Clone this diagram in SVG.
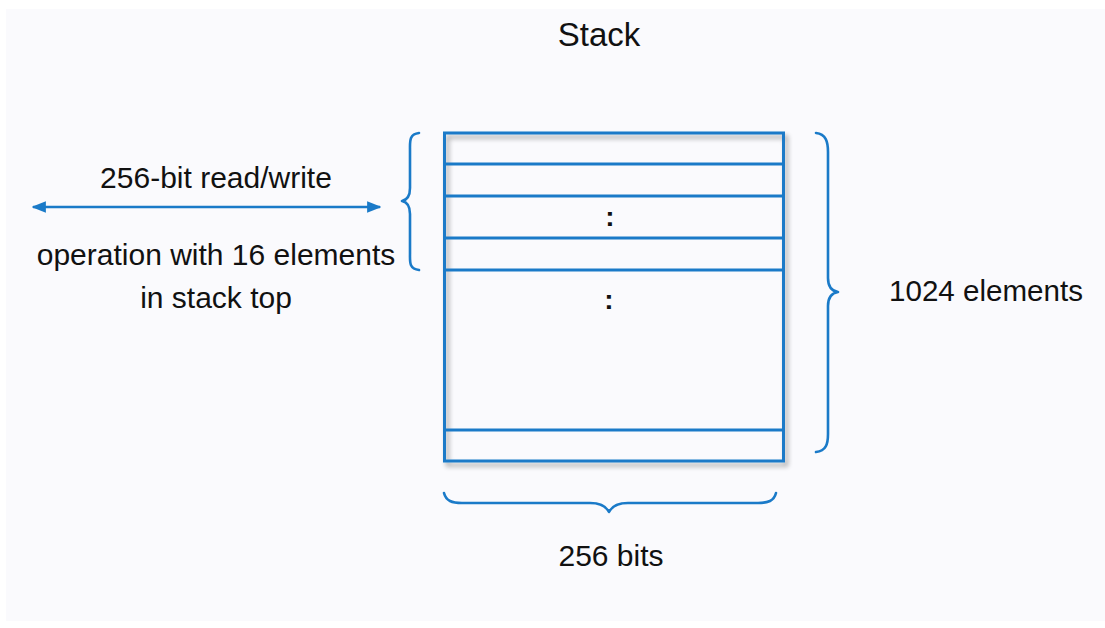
<svg xmlns="http://www.w3.org/2000/svg" width="1105" height="628" viewBox="0 0 1105 628">
  <defs>
    <style>
      .txt { font-family: "Liberation Sans", Arial, sans-serif; fill: #111; }
      .blue { fill: none; stroke: #1a7ac8; stroke-width: 3; }
      .brace { fill: none; stroke: #1a7ac8; stroke-width: 2.6; stroke-linecap: round; stroke-linejoin: round; }
      .dots { font-family: "Liberation Sans", Arial, sans-serif; font-weight: bold; font-size: 28px; fill: #111; text-anchor: middle; }
    </style>
    <marker id="arrowHead" viewBox="0 0 10 10" refX="9" refY="5" markerWidth="5.5" markerHeight="5.5" orient="auto-start-reverse" markerUnits="strokeWidth">
      <path d="M0,1 L10,5 L0,9 Z" fill="#1a7ac8"/>
    </marker>
    <filter id="shadow" x="-10%" y="-10%" width="125%" height="125%">
      <feGaussianBlur in="SourceAlpha" stdDeviation="2.5"/>
      <feOffset dx="3" dy="4" result="blur"/>
      <feComponentTransfer><feFuncA type="linear" slope="0.35"/></feComponentTransfer>
      <feMerge><feMergeNode/><feMergeNode in="SourceGraphic"/></feMerge>
    </filter>
  </defs>

  <!-- page -->
  <rect x="0" y="0" width="1105" height="628" fill="#ffffff"/>
  <rect x="6" y="9" width="1099" height="612" fill="#fafafd"/>

  <!-- title -->
  <g id="title">
    <text class="txt" x="599" y="46" font-size="33" text-anchor="middle">Stack</text>
  </g>

  <!-- stack memory block -->
  <g id="stack">
    <rect x="444.5" y="133" width="339" height="328" fill="#ffffff" class="blue" filter="url(#shadow)"/>
    <g class="blue">
      <line x1="444.5" y1="164" x2="783.5" y2="164"/>
      <line x1="444.5" y1="196" x2="783.5" y2="196"/>
      <line x1="444.5" y1="238" x2="783.5" y2="238"/>
      <line x1="444.5" y1="270" x2="783.5" y2="270"/>
      <line x1="444.5" y1="430" x2="783.5" y2="430"/>
    </g>
    <text class="dots" x="610" y="226">:</text>
    <text class="dots" x="609" y="309">:</text>
  </g>

  <!-- braces -->
  <g id="connectors">
    <!-- top 16 elements (left brace) -->
    <path class="brace" d="M419,133 C409,134 410,142 410,150 L410,188 C410,196 407,200 402,201 C407,202 410,206 410,214 L410,254 C410,262 409,269 419,270"/>
    <!-- 1024 elements (right brace) -->
    <path class="brace" d="M816,133 C826,134 828,142 828,152 L828,278 C828,287 832,291 838,292 C832,293 828,297 828,306 L828,434 C828,444 826,451 816,452"/>
    <!-- 256 bits (bottom brace) -->
    <path class="brace" d="M444,493 C446,501 452,503 462,503 L590,503 C600,503 606,506 609,512 C612,506 618,503 628,503 L758,503 C768,503 774,501 776,493"/>
    <!-- read/write arrow -->
    <line x1="33" y1="207" x2="380" y2="207" stroke="#1a7ac8" stroke-width="2.6" marker-start="url(#arrowHead)" marker-end="url(#arrowHead)"/>
  </g>

  <!-- labels -->
  <g id="labelLeft">
    <text class="txt" x="216" y="188" font-size="30" text-anchor="middle">256-bit read/write</text>
    <text class="txt" x="216" y="265" font-size="30" text-anchor="middle">operation with 16 elements</text>
    <text class="txt" x="216" y="308" font-size="30" text-anchor="middle">in stack top</text>
  </g>
  <g id="labelRight">
    <text class="txt" x="889" y="301" font-size="30" textLength="194" lengthAdjust="spacingAndGlyphs">1024 elements</text>
  </g>
  <g id="labelBottom">
    <text class="txt" x="611" y="566" font-size="30" text-anchor="middle">256 bits</text>
  </g>
</svg>
